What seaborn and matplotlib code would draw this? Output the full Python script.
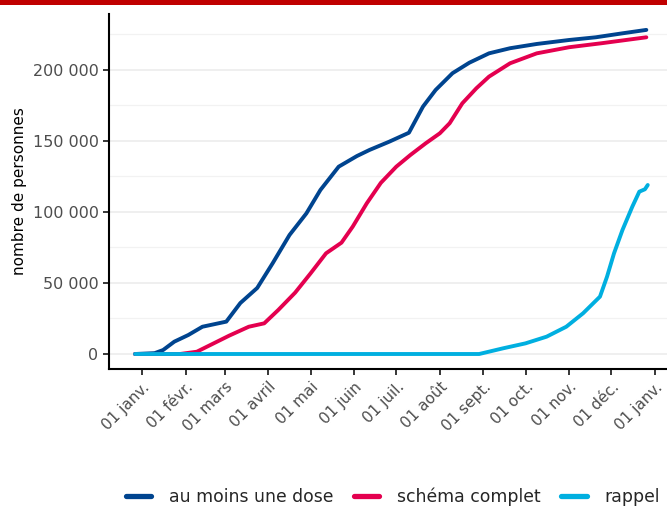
import pandas as pd
import seaborn as sns
import matplotlib.pyplot as plt
from matplotlib.patches import Rectangle
from matplotlib.ticker import MultipleLocator, FuncFormatter

# Cumulative counts
dose1_dates = ['2020-12-27', '2021-01-10', '2021-01-16', '2021-01-24', '2021-02-03',
               '2021-02-13', '2021-03-02', '2021-03-12', '2021-03-24', '2021-04-04',
               '2021-04-16', '2021-04-28', '2021-05-08', '2021-05-21', '2021-06-03',
               '2021-06-12', '2021-06-26', '2021-07-10', '2021-07-20', '2021-07-29',
               '2021-08-10', '2021-08-22', '2021-09-05', '2021-09-20', '2021-10-09',
               '2021-11-01', '2021-11-20', '2021-12-09', '2021-12-26']
dose1_values = [0, 600, 2800, 8700, 13400,
                19200, 22800, 35900, 46500, 63900,
                83800, 99000, 115500, 131900, 139400,
                143700, 149500, 155800, 174200, 185900,
                197700, 205100, 211700, 215300, 218300,
                221100, 223000, 225800, 228200]

full_dates = ['2020-12-27', '2021-01-28', '2021-02-09', '2021-02-20', '2021-03-04',
              '2021-03-18', '2021-03-29', '2021-04-08', '2021-04-20', '2021-05-01',
              '2021-05-12', '2021-05-23', '2021-05-31', '2021-06-10', '2021-06-20',
              '2021-07-01', '2021-07-11', '2021-07-22', '2021-08-01', '2021-08-08',
              '2021-08-17', '2021-08-27', '2021-09-05', '2021-09-20', '2021-10-09',
              '2021-11-01', '2021-11-24', '2021-12-26']
full_values = [0, 0, 1600, 7000, 12900,
               19200, 21600, 31000, 43200, 56800,
               70900, 78400, 89700, 106100, 120500,
               131900, 140100, 148400, 155400, 162500,
               176500, 187100, 195300, 204700, 211700,
               216000, 218800, 223000]

booster_dates = ['2020-12-27', '2021-08-29', '2021-09-15', '2021-10-01', '2021-10-16',
                 '2021-10-30', '2021-11-11', '2021-11-23', '2021-11-28', '2021-12-03',
                 '2021-12-09', '2021-12-16', '2021-12-21', '2021-12-25', '2021-12-27']
booster_values = [0, 0, 4000, 7500, 12200,
                  19200, 28700, 40400, 54400, 70900,
                  87300, 103700, 114300, 116000, 119000]

series_names = ['au moins une dose', 'schéma complet', 'rappel']
series_colors = ['#00448f', '#e4004f', '#00afe0']

month_ticks = pd.date_range('2021-01-01', '2022-01-01', freq='MS')
month_labels = ['01 janv.', '01 févr.', '01 mars', '01 avril', '01 mai', '01 juin',
                '01 juil.', '01 août', '01 sept.', '01 oct.', '01 nov.', '01 déc.',
                '01 janv.']

frames = []
for name, d, v in zip(series_names, [dose1_dates, full_dates, booster_dates],
                      [dose1_values, full_values, booster_values]):
    frames.append(pd.DataFrame({'date': pd.to_datetime(d), 'n': v, 'serie': name}))
df = pd.concat(frames, ignore_index=True)

sns.set_theme(style="white")
plt.rcParams['font.family'] = ['DejaVu Sans']

fig = plt.figure(figsize=(6.67, 5.07), dpi=100)
ax = fig.add_axes([109 / 667, 1 - 369 / 507, 1 - 109 / 667, 355 / 507])

ax.yaxis.set_major_locator(MultipleLocator(50000))
ax.yaxis.set_minor_locator(MultipleLocator(25000))
ax.grid(True, which='major', axis='y', color='#ebebeb', lw=1.1)
ax.grid(True, which='minor', axis='y', color='#f2f2f2', lw=0.9)
ax.set_axisbelow(True)

sns.lineplot(data=df, x='date', y='n', hue='serie', hue_order=series_names,
             palette=series_colors, lw=2.8, ax=ax, legend=False)

ax.set_xlim(pd.Timestamp('2020-12-08 12:00'), pd.Timestamp('2022-01-09 17:00'))
ax.set_ylim(-10560, 239400)

ax.set_xticks(month_ticks)
ax.set_xticklabels(month_labels, rotation=45, ha='right', rotation_mode='anchor',
                   fontsize=11, color='#4d4d4d')
ax.yaxis.set_major_formatter(FuncFormatter(lambda v, p: f"{int(v):,}".replace(',', ' ')))
ax.tick_params(axis='y', labelsize=11.5, labelcolor='#4d4d4d')
ax.tick_params(axis='both', which='major', length=4, width=1.1, color='black',
               bottom=True, left=True)
ax.tick_params(axis='y', which='minor', length=0)

ax.set_xlabel('')
ax.set_ylabel('nombre de personnes', fontsize=11, color='black')

sns.despine(ax=ax)
for s in ['left', 'bottom']:
    ax.spines[s].set_color('black')
    ax.spines[s].set_linewidth(1.5)

handles = [plt.Line2D([], [], color=c, lw=3.8) for c in series_colors]
fig.legend(handles, series_names, loc='center', bbox_to_anchor=(0.5885, 0.02),
           ncol=3, frameon=False, fontsize=12.4, handlelength=1.5,
           columnspacing=1.2, handletextpad=1.0)

fig.add_artist(Rectangle((0, 1 - 5 / 507), 1, 5 / 507, transform=fig.transFigure,
                         color='#c00000', lw=0))

fig.savefig('out.png', dpi=100)
